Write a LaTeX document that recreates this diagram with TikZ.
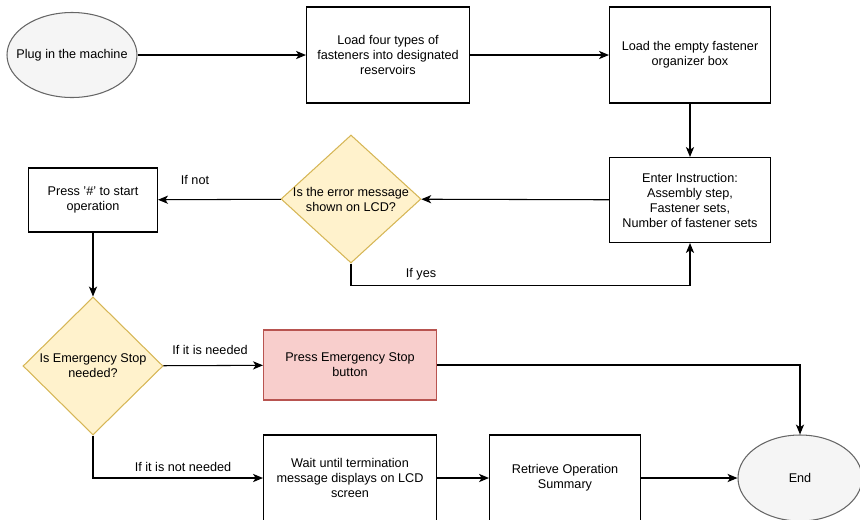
\documentclass[tikz,border=0pt]{standalone}
\usepackage{fontspec}
\setmainfont{Liberation Sans}
\usepackage{tikz}
\usetikzlibrary{arrows.meta}
\usetikzlibrary{calc}
\usetikzlibrary{shapes.geometric}
\usetikzlibrary{positioning}
\definecolor{termfill}{HTML}{F5F5F5}
\definecolor{termline}{HTML}{666666}
\definecolor{decfill}{HTML}{FFF2CC}
\definecolor{decline}{HTML}{D6B656}
\definecolor{stopfill}{HTML}{F8CECC}
\definecolor{stopline}{HTML}{B85450}

\begin{document}
\begin{tikzpicture}[x=0.03cm, y=-0.03cm,
    every node/.style={font=\fontsize{10.8}{12.8}\selectfont, align=center},
    terminal/.style={draw=termline, fill=termfill, ellipse, line width=0.9pt, inner sep=0pt},
    process/.style={draw, rectangle, line width=0.9pt, inner sep=0pt},
    decision/.style={draw=decline, fill=decfill, diamond, line width=0.9pt, inner sep=0pt},
    stopbox/.style={draw=stopline, fill=stopfill, rectangle, line width=0.9pt, inner sep=0pt},
    flow/.style={-{Stealth[length=8.5pt, width=7pt, inset=2.3pt]}, line width=0.9pt}]
            \useasboundingbox (0,0) rectangle (860,519);
            \begin{scope}
            \clip (0,0) rectangle (860,519);
            \draw (72,55) node[terminal, minimum width=3.9cm, minimum height=2.55cm,
                label={center:Plug in the machine}]                                       (plug) {};
            \draw (388,55) node[process, minimum width=4.89cm, minimum height=2.88cm]     (load) {Load four types of\\fasteners into designated\\reservoirs};
            \draw (690,55) node[process, minimum width=4.83cm, minimum height=2.88cm]     (empty) {Load the empty fastener\\organizer box};
            \draw (690,200) node[process, minimum width=4.83cm, minimum height=2.55cm]    (enter) {Enter Instruction:\\Assembly step,\\Fastener sets,\\Number of fastener sets};
            \draw (351,199) node[decision, minimum width=4.2cm, minimum height=3.84cm,
                label={center:Is the error message\\shown on LCD?}]                       (err) {};
            \draw (93,200) node[process, minimum width=3.87cm, minimum height=1.92cm]     (start) {Press '\#' to start\\operation};
            \draw (93,366) node[decision, minimum width=4.2cm, minimum height=4.14cm,
                label={center:Is Emergency Stop\\needed?}]                                (emg) {};
            \draw (350,365) node[stopbox, minimum width=5.19cm, minimum height=2.1cm]     (estop) {Press Emergency Stop\\button};
            \draw (350,478) node[process, minimum width=5.19cm, minimum height=2.58cm]    (wait) {Wait until termination\\message displays on LCD\\screen};
            \draw (565,478) node[process, minimum width=4.53cm, minimum height=2.58cm]    (retr) {Retrieve Operation\\Summary};
            \draw (800,478) node[terminal, minimum width=3.72cm, minimum height=2.58cm]   (end) {End};

            \draw (195,180) node (ifnot) {If not};
            \draw (421,274) node (ifyes) {If yes};
            \draw (210,350) node (ifneed) {If it is needed};
            \draw (183,467) node (ifnotneed) {If it is not needed};

            \draw[flow] (plug) -- (load);
            \draw[flow] (load) -- (empty);
            \draw[flow] (empty) -- (enter);
            \draw[flow] (enter) -- (err);
            \draw[flow] (err) -- (start);
            \draw[flow] (err.south) -- ++(0,22) -| (enter.south);
            \draw[flow] (start) -- (emg);
            \draw[flow] (emg) -- (estop);
            \draw[flow] (estop.east) -| (end.north);
            \draw[flow] (emg.south) |- (wait.west);
            \draw[flow] (wait) -- (retr);
            \draw[flow] (retr) -- (end);
            \end{scope}
\end{tikzpicture}
\end{document}
